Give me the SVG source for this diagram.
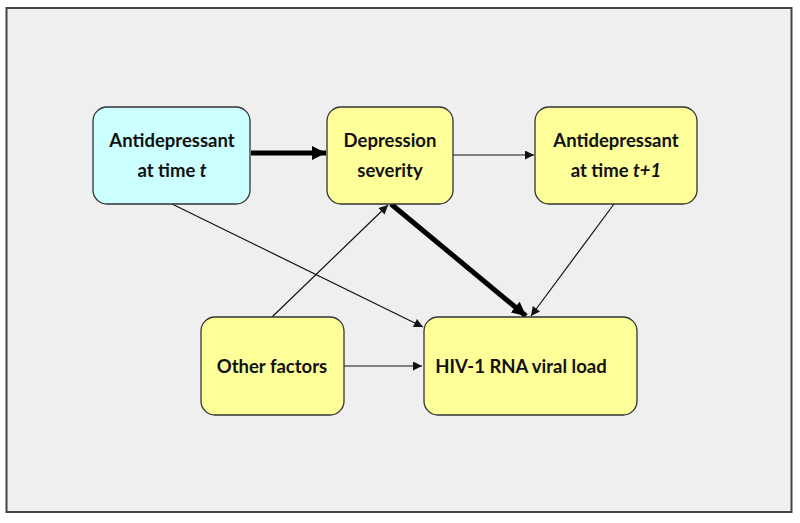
<svg xmlns="http://www.w3.org/2000/svg" width="800" height="523" viewBox="0 0 800 523">
<defs>
<style>
.box{stroke:#333;stroke-width:1.3}
.y{fill:#ffff99}
.c{fill:#ccffff}
.t{font-family:Lato,"Liberation Sans",sans-serif;font-weight:bold;font-size:18.5px;fill:#111;text-anchor:middle}
.thin{stroke:#111;stroke-width:1.2;fill:none}
.thick{stroke:#000;stroke-width:5;fill:none}
</style>
<marker id="ah" viewBox="0 0 10 10" refX="10" refY="5" markerWidth="10" markerHeight="9" markerUnits="userSpaceOnUse" orient="auto"><path d="M0,0L10,5L0,10z" fill="#111"/></marker>
<marker id="ahk" viewBox="0 0 10 10" refX="10" refY="5" markerWidth="14" markerHeight="14" markerUnits="userSpaceOnUse" orient="auto"><path d="M0,0L10,5L0,10z" fill="#000"/></marker>
</defs>
<rect x="0" y="0" width="800" height="523" fill="#fff"/>
<rect x="6.5" y="8" width="785" height="504" fill="#efefef" stroke="#444" stroke-width="2"/>
<g id="connectors">
<line class="thick" x1="251" y1="153" x2="326" y2="153" marker-end="url(#ahk)"/>
<line class="thin" x1="453" y1="155" x2="534" y2="155" marker-end="url(#ah)"/>
<line class="thick" x1="391" y1="204" x2="526" y2="316" marker-end="url(#ahk)"/>
<line class="thin" x1="614" y1="204" x2="531" y2="316" marker-end="url(#ah)"/>
<line class="thin" x1="172" y1="204" x2="423" y2="327" marker-end="url(#ah)"/>
<line class="thin" x1="272" y1="317" x2="388" y2="205" marker-end="url(#ah)"/>
<line class="thin" x1="344" y1="366" x2="422" y2="366" marker-end="url(#ah)"/>
</g>
<g id="n1"><rect class="box c" x="93" y="107" width="157" height="97" rx="14"/><text class="t" x="172" y="147">Antidepressant</text><text class="t" x="172" y="177">at time <tspan font-style="italic">t</tspan></text></g>
<g id="n2"><rect class="box y" x="327" y="107" width="126" height="97" rx="14"/><text class="t" x="390" y="147">Depression</text><text class="t" x="390" y="177">severity</text></g>
<g id="n3"><rect class="box y" x="535" y="107" width="162" height="97" rx="14"/><text class="t" x="616" y="147">Antidepressant</text><text class="t" x="616" y="177">at time <tspan font-style="italic">t+1</tspan></text></g>
<g id="n4"><rect class="box y" x="201" y="317" width="143" height="98" rx="14"/><text class="t" x="272" y="373">Other factors</text></g>
<g id="n5"><rect class="box y" x="424" y="317" width="213" height="98" rx="14"/><text class="t" x="521" y="373">HIV-1 RNA viral load</text></g>
</svg>
